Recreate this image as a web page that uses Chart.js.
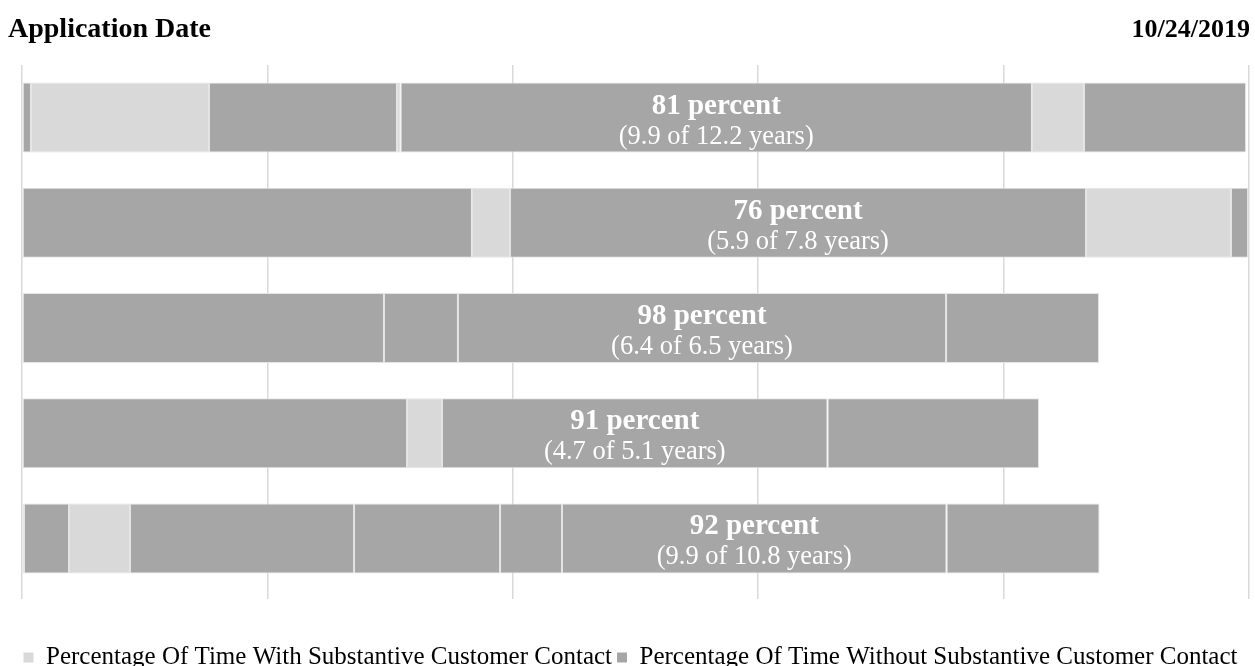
<!DOCTYPE html>
<html lang="en">
<head>
<meta charset="utf-8"/>
<script src="https://cdn.jsdelivr.net/npm/chart.js@4.4.1/dist/chart.umd.min.js"></script>
<style>
    html, body { margin: 0; padding: 0; background: #fff; }
    #wrap { position: relative; width: 1255px; height: 666px; overflow: hidden; }
    #chart { position: absolute; left: 0; top: 0; }
    .head { position: absolute; top: 14px; font: bold 26px "Liberation Serif", "Times New Roman", serif; color: #000; line-height: 30px; white-space: nowrap; }
    #head-left { left: 8px; font-size: 28px; top: 13px; }
    #head-right { right: 5px; }
</style>
</head>
<body>
<div id="wrap">
    <canvas id="chart" width="1255" height="666"></canvas>
    <div class="head" id="head-left">Application Date</div>
    <div class="head" id="head-right">10/24/2019</div>
</div>
<script>
    // one row per position, segment lengths read left to right
    // C = time with substantive customer contact, N = without
    const rows = ['Position 1', 'Position 2', 'Position 3', 'Position 4', 'Position 5'];

    const row1Lengths = [0.73, 14.51, 15.32, 0.29, 51.46, 4.24, 13.21];
    const row1Kinds   = ['N', 'C', 'N', 'C', 'N', 'C', 'N'];

    const row2Lengths = [36.67, 3.10, 46.95, 11.81, 1.39];
    const row2Kinds   = ['N', 'C', 'N', 'C', 'N'];

    const row3Lengths = [29.50, 6.03, 39.78, 12.47];
    const row3Kinds   = ['N', 'N', 'N', 'N'];

    const row4Lengths = [31.38, 2.85, 31.42, 17.24];
    const row4Kinds   = ['N', 'C', 'N', 'N'];

    const row5Lengths = [0.16, 3.67, 4.97, 18.26, 11.90, 5.05, 31.34, 12.47];
    const row5Kinds   = ['C', 'N', 'C', 'N', 'N', 'N', 'N', 'N'];

    const percentLabels = ['81 percent', '76 percent', '98 percent', '91 percent', '92 percent'];
    const yearLabels = ['(9.9 of 12.2 years)', '(5.9 of 7.8 years)', '(6.4 of 6.5 years)', '(4.7 of 5.1 years)', '(9.9 of 10.8 years)'];
    const labelSlot = [4, 2, 2, 2, 6];

    const legendNames = ['Percentage Of Time With Substantive Customer Contact', 'Percentage Of Time Without Substantive Customer Contact'];

    const LIGHT = '#d9d9d9';
    const DARK = '#a6a6a6';
    const SERIF = '"Liberation Serif", "Times New Roman", serif';

    const rowLengths = [row1Lengths, row2Lengths, row3Lengths, row4Lengths, row5Lengths];
    const rowKinds = [row1Kinds, row2Kinds, row3Kinds, row4Kinds, row5Kinds];

    const slotCount = Math.max(...rowLengths.map(r => r.length));
    const datasets = [];
    for (let s = 0; s < slotCount; s++) {
        datasets.push({
            label: 'segment ' + (s + 1),
            data: rowLengths.map(r => (s < r.length ? r[s] : null)),
            backgroundColor: rowKinds.map(k => (k[s] === 'C' ? LIGHT : DARK)),
            borderColor: '#e4e4e4',
            borderWidth: 1,
            borderSkipped: false,
            barPercentage: 0.665,
            categoryPercentage: 1
        });
    }

    const barLabels = {
        id: 'barLabels',
        afterDatasetsDraw(chart) {
            const ctx = chart.ctx;
            ctx.save();
            ctx.fillStyle = '#ffffff';
            ctx.textAlign = 'center';
            ctx.textBaseline = 'alphabetic';
            labelSlot.forEach((s, i) => {
                const bar = chart.getDatasetMeta(s).data[i];
                const cx = (bar.x + bar.base) / 2;
                ctx.font = 'bold 29px ' + SERIF;
                ctx.fillText(percentLabels[i], cx, bar.y - 4);
                ctx.font = '26.5px ' + SERIF;
                ctx.fillText(yearLabels[i], cx, bar.y + 26);
            });
            ctx.restore();
        }
    };

    new Chart(document.getElementById('chart'), {
        type: 'bar',
        data: { labels: rows, datasets: datasets },
        plugins: [barLabels],
        options: {
            indexAxis: 'y',
            responsive: false,
            animation: false,
            layout: { padding: { top: 65, left: 12, right: 6, bottom: -14 } },
            scales: {
                x: {
                    stacked: true,
                    min: 0,
                    max: 100,
                    ticks: { display: false, stepSize: 20 },
                    grid: { color: '#d9d9d9', lineWidth: 1.5, tickLength: 8 },
                    border: { display: false },
                    afterFit(scale) { scale.height = 49; }
                },
                y: {
                    stacked: true,
                    ticks: { display: false },
                    grid: { display: false },
                    border: { display: false },
                    afterFit(scale) { scale.width = 10; }
                }
            },
            plugins: {
                tooltip: { enabled: false },
                legend: {
                    position: 'bottom',
                    onClick: null,
                    labels: {
                        boxWidth: 10,
                        boxHeight: 10,
                        padding: 5,
                        color: '#595959',
                        font: { family: SERIF, size: 25 },
                        generateLabels: () => legendNames.map((t, i) => ({
                            text: t,
                            fillStyle: i === 0 ? LIGHT : DARK,
                            strokeStyle: i === 0 ? LIGHT : DARK,
                            lineWidth: 0,
                            hidden: false,
                            datasetIndex: i
                        }))
                    }
                }
            }
        }
    });
</script>
</body>
</html>
